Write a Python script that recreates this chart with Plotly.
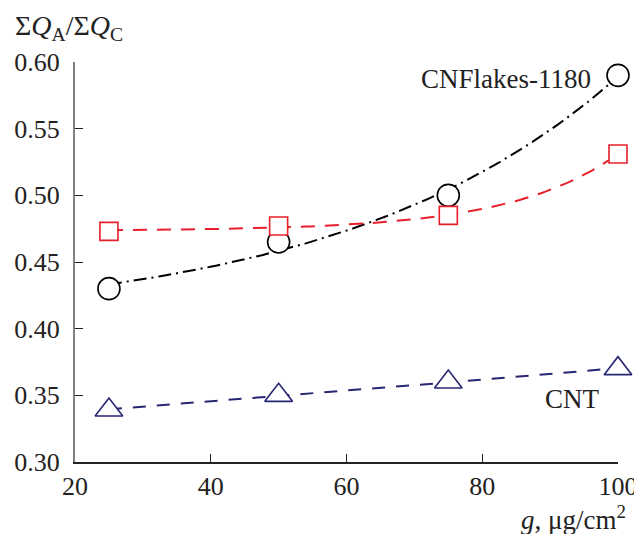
import numpy as np
import plotly.graph_objects as go

g_values = [25, 50, 75, 100]
cnflakes = [0.430, 0.465, 0.500, 0.590]
ec600jd = [0.473, 0.477, 0.485, 0.531]
cnt = [0.339, 0.350, 0.360, 0.370]

x_ticks = [20, 40, 60, 80, 100]
y_ticks = [0.30, 0.35, 0.40, 0.45, 0.50, 0.55, 0.60]

FONT = "Liberation Serif"
RED = "#e8202a"
NAVY = "#272673"


def exp_trend(x, y):
    """Least-squares trend y = a + b*exp(x/t) fitted to the data."""
    x = np.asarray(x, float)
    y = np.asarray(y, float)
    best = None
    for t in np.linspace(5, 600, 1200):
        A = np.column_stack([np.ones_like(x), np.exp(x / t)])
        coef, *_ = np.linalg.lstsq(A, y, rcond=None)
        r = float(np.sum((A @ coef - y) ** 2))
        if best is None or r < best[0]:
            best = (r, t, coef)
    _, t, coef = best
    xs = np.linspace(x.min(), x.max(), 120)
    return xs, coef[0] + coef[1] * np.exp(xs / t)


fig = go.Figure()

series = [
    ("CNFlakes-1180", cnflakes, "black", "13px,5px,2px,5px", "circle", 22),
    ("EC600JD", ec600jd, RED, "14px,10px", "square", 18),
    ("CNT", cnt, NAVY, "13px,11px", "triangle-up", 24),
]
for name, ys, col, dash, sym, size in series:
    xs, yfit = exp_trend(g_values, ys)
    fig.add_trace(go.Scatter(x=xs, y=yfit, mode="lines",
                             line=dict(color=col, width=2, dash=dash),
                             showlegend=False, hoverinfo="skip"))
for name, ys, col, dash, sym, size in series:
    fig.add_trace(go.Scatter(x=g_values, y=ys, mode="markers", name=name,
                             marker=dict(symbol=sym, size=size, color="white",
                                         line=dict(color=col, width=1.6)),
                             showlegend=False, cliponaxis=False))

fig.update_layout(
    width=634, height=526,
    margin=dict(l=67, r=24, t=54, b=72, autoexpand=False),
    paper_bgcolor="white", plot_bgcolor="white",
    font=dict(family=FONT, size=26, color="#222"),
    xaxis=dict(range=[20, 100], tickvals=x_ticks, ticks="inside", ticklen=8,
               tickcolor="#222", tickwidth=1.3, showline=True, linecolor="#222",
               linewidth=1.5, showgrid=False, zeroline=False, automargin=False,
               tickfont=dict(size=26)),
    yaxis=dict(range=[0.30, 0.60], tickvals=y_ticks, tickformat=".2f",
               ticks="inside", ticklen=8, tickcolor="#222", tickwidth=1.3,
               showline=True, linecolor="#808080", linewidth=2, showgrid=False,
               zeroline=False, automargin=False, ticklabelstandoff=8,
               tickfont=dict(size=26)),
    annotations=[
        dict(text="Σ<i>Q</i><sub>A</sub>/Σ<i>Q</i><sub>C</sub>", xref="paper", yref="paper",
             x=-0.115, y=1.0, yshift=35, xanchor="left", yanchor="middle",
             showarrow=False, font=dict(size=28)),
        dict(text="<i>g</i>, μg/cm<sup>2</sup>", xref="paper", yref="paper",
             x=1.018, y=0, yshift=-56, xanchor="right", yanchor="middle",
             showarrow=False, font=dict(size=27)),
        dict(text="CNFlakes-1180", x=96.3, y=0.587, xanchor="right", yanchor="middle",
             showarrow=False, font=dict(size=27)),
        dict(text="EC600JD", x=101.5, y=0.4875, xanchor="right", yanchor="middle",
             showarrow=False, font=dict(size=27)),
        dict(text="CNT", x=97.6, y=0.347, xanchor="right", yanchor="middle",
             showarrow=False, font=dict(size=27)),
    ],
)

fig.write_html("out.html")
